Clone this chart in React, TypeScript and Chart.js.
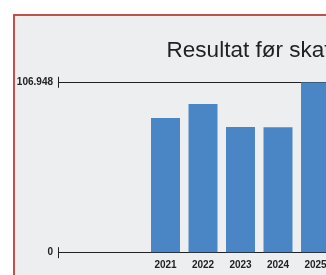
import React, { useEffect, useRef } from "react";
import { Chart, registerables } from "chart.js";

Chart.register(...registerables);

const chartTitle = "Resultat før skat";
const years = ["2021", "2022", "2023", "2024", "2025"];
const resultValues = [84500, 93300, 78900, 78800, 106948];
const yTickValues = [0, 106948];

const FONT = "'Liberation Sans', Arial, sans-serif";
const TICK_LEN = 88.75;
const W = 467;
const H = 290;

const fmt = (v: number) =>
  String(Math.round(v)).replace(/\B(?=(\d{3})+(?!\d))/g, ".");

export default function App() {
  const ref = useRef<HTMLCanvasElement>(null);

  useEffect(() => {
    const markPlugin = {
      id: "axisMarks",
      afterDraw(chart: any) {
        const ys = chart.scales.y;
        const ctx = chart.ctx;
        const x = Math.round(chart.chartArea.left - TICK_LEN) + 0.5;
        ctx.save();
        ctx.strokeStyle = "#222";
        ctx.lineWidth = 1;
        for (const v of yTickValues) {
          const py = ys.getPixelForValue(v);
          ctx.beginPath();
          ctx.moveTo(x, py - 5.5);
          ctx.lineTo(x, py + 5.5);
          ctx.stroke();
        }
        ctx.restore();
      },
    };

    const chart = new Chart(ref.current as HTMLCanvasElement, {
      type: "bar",
      data: {
        labels: years,
        datasets: [
          {
            data: resultValues,
            backgroundColor: "#4A86C6",
            barPercentage: 0.773,
            categoryPercentage: 1,
          },
        ],
      },
      options: {
        responsive: false,
        animation: false,
        devicePixelRatio: 1,
        layout: { padding: { top: 0, left: 0, right: 0, bottom: 34.3 } },
        plugins: {
          legend: { display: false },
          tooltip: { enabled: false },
          title: {
            display: true,
            text: chartTitle,
            color: "#222",
            font: { family: FONT, size: 22.5, weight: "normal" },
            padding: { top: 21, bottom: 18.3 },
          },
        },
        scales: {
          x: {
            type: "category",
            offset: true,
            grid: { display: false, drawTicks: false },
            border: { display: false },
            ticks: {
              color: "#222",
              font: { family: FONT, size: 10, weight: "bold" },
              padding: 7,
              maxRotation: 0,
              autoSkip: false,
            },
            afterFit(s: any) {
              s.height = 19;
            },
          },
          y: {
            min: 0,
            max: 106948,
            afterBuildTicks(s: any) {
              s.ticks = yTickValues.map((v) => ({ value: v }));
            },
            grid: { color: "#222", lineWidth: 1, tickLength: TICK_LEN, drawTicks: true },
            border: { display: false },
            ticks: {
              color: "#222",
              font: { family: FONT, size: 10, weight: "bold" },
              padding: 5,
              callback: (v: any) => fmt(Number(v)),
            },
            afterFit(s: any) {
              s.width = 131.75;
            },
          },
          yRight: {
            position: "right",
            display: true,
            grid: { display: false, drawTicks: false },
            border: { display: false },
            ticks: { display: false },
            afterFit(s: any) {
              s.width = W - 319.25;
            },
          },
        },
      } as any,
      plugins: [markPlugin],
    });
    return () => chart.destroy();
  }, []);

  return (
    <div style={{ position: "fixed", inset: 0, overflow: "hidden", background: "#fff" }}>
      <div
        style={{
          position: "absolute",
          left: 13,
          top: 14,
          width: W,
          height: H,
          border: "2px solid #C0504D",
          background: "#EDEEF0",
        }}
      >
        <canvas ref={ref} width={W} height={H} style={{ display: "block" }} />
      </div>
    </div>
  );
}
